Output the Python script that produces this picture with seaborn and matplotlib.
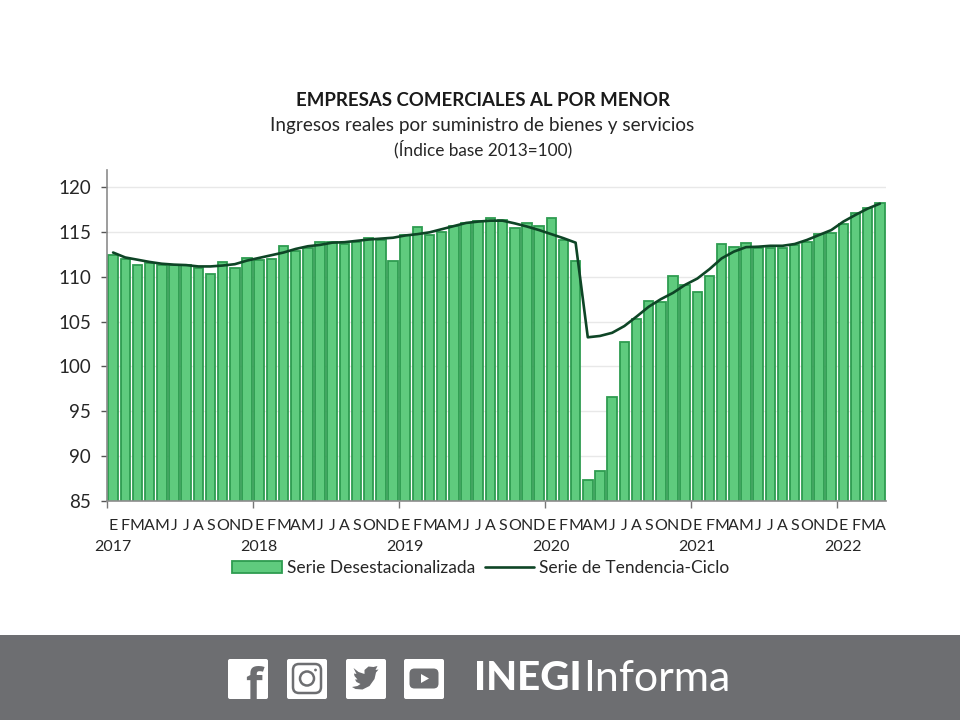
import matplotlib
matplotlib.use("Agg")
import matplotlib.pyplot as plt
import pandas as pd
import seaborn as sns
from matplotlib.patches import Circle, FancyBboxPatch, Polygon, Rectangle

# Data, Jan 2017 to Apr 2022
month_labels = ["E", "F", "M", "A", "M", "J", "J", "A", "S", "O", "N", "D"] * 5 + ["E", "F", "M", "A"]
years = ["2017", "2018", "2019", "2020", "2021", "2022"]

desestacionalizada = [
    112.4, 112.0, 111.3, 111.5, 111.3, 111.3, 111.3, 111.0, 110.3, 111.65, 111.0, 112.05,
    111.9, 112.0, 113.4, 112.9, 113.15, 113.9, 113.9, 113.6, 113.9, 114.3, 114.1, 111.75,
    114.7, 115.55, 114.6, 115.0, 115.7, 115.95, 116.2, 116.5, 116.35, 115.4, 115.95, 115.7,
    116.5, 114.05, 111.75, 87.3, 88.3, 96.6, 102.7, 105.3, 107.3, 107.2, 110.1, 109.1,
    108.35, 110.1, 113.6, 113.3, 113.8, 113.2, 113.2, 113.2, 113.55, 113.9, 114.75, 114.85,
    115.9, 117.15, 117.7, 118.2,
]
tendencia = [
    112.7, 112.15, 111.9, 111.65, 111.45, 111.35, 111.3, 111.15, 111.15, 111.25, 111.4, 111.8,
    112.1, 112.4, 112.7, 113.1, 113.4, 113.55, 113.8, 113.85, 114.0, 114.15, 114.25, 114.35,
    114.6, 114.75, 114.95, 115.3, 115.65, 116.0, 116.15, 116.25, 116.25, 115.95, 115.6, 115.2,
    114.75, 114.3, 113.8, 103.25, 103.4, 103.75, 104.5, 105.55, 106.65, 107.5, 108.2, 109.1,
    109.8, 110.85, 112.05, 112.8, 113.3, 113.35, 113.45, 113.45, 113.65, 114.1, 114.65, 115.2,
    116.15, 116.9, 117.6, 118.15,
]

df = pd.DataFrame({"mes": range(len(desestacionalizada)), "valor": desestacionalizada, "tendencia": tendencia})

sns.set_theme(style="white")
plt.rcParams["font.family"] = ["Lato", "DejaVu Sans"]
text_color = "#262626"

fig = plt.figure(figsize=(9.6, 7.2), dpi=100, facecolor="white")
ax = fig.add_axes([107 / 960, (720 - 501) / 720, 779 / 960, 331 / 720])

sns.barplot(df, x="mes", y="valor", color="#5FCB7E", saturation=1, width=0.78,
            edgecolor="#2E9C50", linewidth=1.3, label="Serie Desestacionalizada", ax=ax, zorder=2)
sns.lineplot(df, x="mes", y="tendencia", color="#0E4526", linewidth=1.9,
             label="Serie de Tendencia-Ciclo", ax=ax, zorder=3)

ax.set_xlim(-0.5, len(month_labels) - 0.5)
ax.set_ylim(85, 121.9)
ax.set_yticks(range(85, 121, 5))
ax.grid(axis="y", color="#E8E8E8", linewidth=1)
ax.set_axisbelow(True)
ax.set_xlabel(None)
ax.set_ylabel(None)
ax.tick_params(axis="y", left=True, length=4.5, width=1, color="#555555", labelsize=13.5, labelcolor=text_color, pad=7)

ax.set_xticks(range(len(month_labels)))
ax.set_xticklabels(month_labels, fontsize=11.5, color=text_color)
ax.tick_params(axis="x", bottom=False, pad=7)
ax.set_xticks([-0.5 + 12 * i for i in range(6)], minor=True)
ax.tick_params(axis="x", which="minor", bottom=True, length=5, width=1, color="#777777")

for side in ["top", "right"]:
    ax.spines[side].set_visible(False)
for side in ["left", "bottom"]:
    ax.spines[side].set_color("#8C8C8C")
    ax.spines[side].set_linewidth(1.2)

# year row below the month letters
for i, year in enumerate(years):
    ax.text(12 * i, -46 / 331, year, transform=ax.get_xaxis_transform(), ha="center", va="center",
            fontsize=11.5, color=text_color)

# bars first in the legend
h, l = ax.get_legend_handles_labels()
order = [l.index("Serie Desestacionalizada"), l.index("Serie de Tendencia-Ciclo")]
ax.legend([h[i] for i in order], [l[i] for i in order], loc="center",
          bbox_to_anchor=(481 / 960, (720 - 568) / 720), bbox_transform=fig.transFigure,
          ncol=2, frameon=False, fontsize=12.5, labelcolor=text_color, handlelength=2.85, handleheight=0.7,
          columnspacing=0.55, handletextpad=0.3, borderpad=0)

# titles
fig.text(483 / 960, 1 - 101 / 720, "EMPRESAS COMERCIALES AL POR MENOR", ha="center", va="center",
         fontsize=13.4, fontweight="bold", color="#1A1A1A")
fig.text(482 / 960, 1 - 125 / 720, "Ingresos reales por suministro de bienes y servicios", ha="center", va="center",
         fontsize=13.6, color=text_color)
fig.text(483 / 960, 1 - 149 / 720, "(Índice base 2013=100)", ha="center", va="center",
         fontsize=12.4, color=text_color)

# footer band, pixel coordinates
band_color = "#6D6E71"
foot = fig.add_axes([0, 0, 1, 1], facecolor="none")
foot.set_xlim(0, 960)
foot.set_ylim(720, 0)
foot.axis("off")
foot.add_patch(Rectangle((0, 635), 960, 85, color=band_color, lw=0))

for x0 in [228, 287, 346, 404]:
    foot.add_patch(FancyBboxPatch((x0 + 2, 661), 36, 36, boxstyle="round,pad=2,rounding_size=2", fc="white", ec="none"))

# facebook
foot.text(254, 699, "f", ha="center", va="baseline", fontsize=31, fontweight="bold", color=band_color, family="Open Sans")

# instagram
foot.add_patch(FancyBboxPatch((296, 667), 22, 23, boxstyle="round,pad=3,rounding_size=6", fc="none", ec=band_color, lw=1.8))
foot.add_patch(Circle((307, 678.5), 7, fc="none", ec=band_color, lw=1.8))
foot.add_patch(Circle((315.5, 670), 1.4, fc=band_color, ec="none"))

# twitter
bird = [(349, 668), (354, 672), (360, 674), (360, 670), (364, 666.5), (369, 667), (373, 666), (371, 670),
        (374, 669.5), (371.5, 672.5), (370, 679), (365, 686), (358, 689.5), (351, 689), (347.5, 687),
        (353, 686), (356, 684), (352, 682), (350.5, 679.5), (353, 679.5), (350, 676), (349.5, 673.5), (352, 674)]
foot.add_patch(Polygon([(x + 4.5, y) for x, y in bird], closed=True, fc=band_color, ec="none"))

# youtube
foot.add_patch(FancyBboxPatch((412, 671), 24, 15, boxstyle="round,pad=2.5,rounding_size=5", fc=band_color, ec="none"))
foot.add_patch(Polygon([(421, 674), (421, 683), (429, 678.5)], closed=True, fc="white", ec="none"))

foot.text(474, 678, "INEGI", ha="left", va="center", fontsize=29, fontweight="black", color="white", family="Lato")
foot.text(583, 679, "Informa", ha="left", va="center", fontsize=31, fontweight="normal", color="white", family="Lato")

fig.savefig("out.png", dpi=100)
plt.close()
